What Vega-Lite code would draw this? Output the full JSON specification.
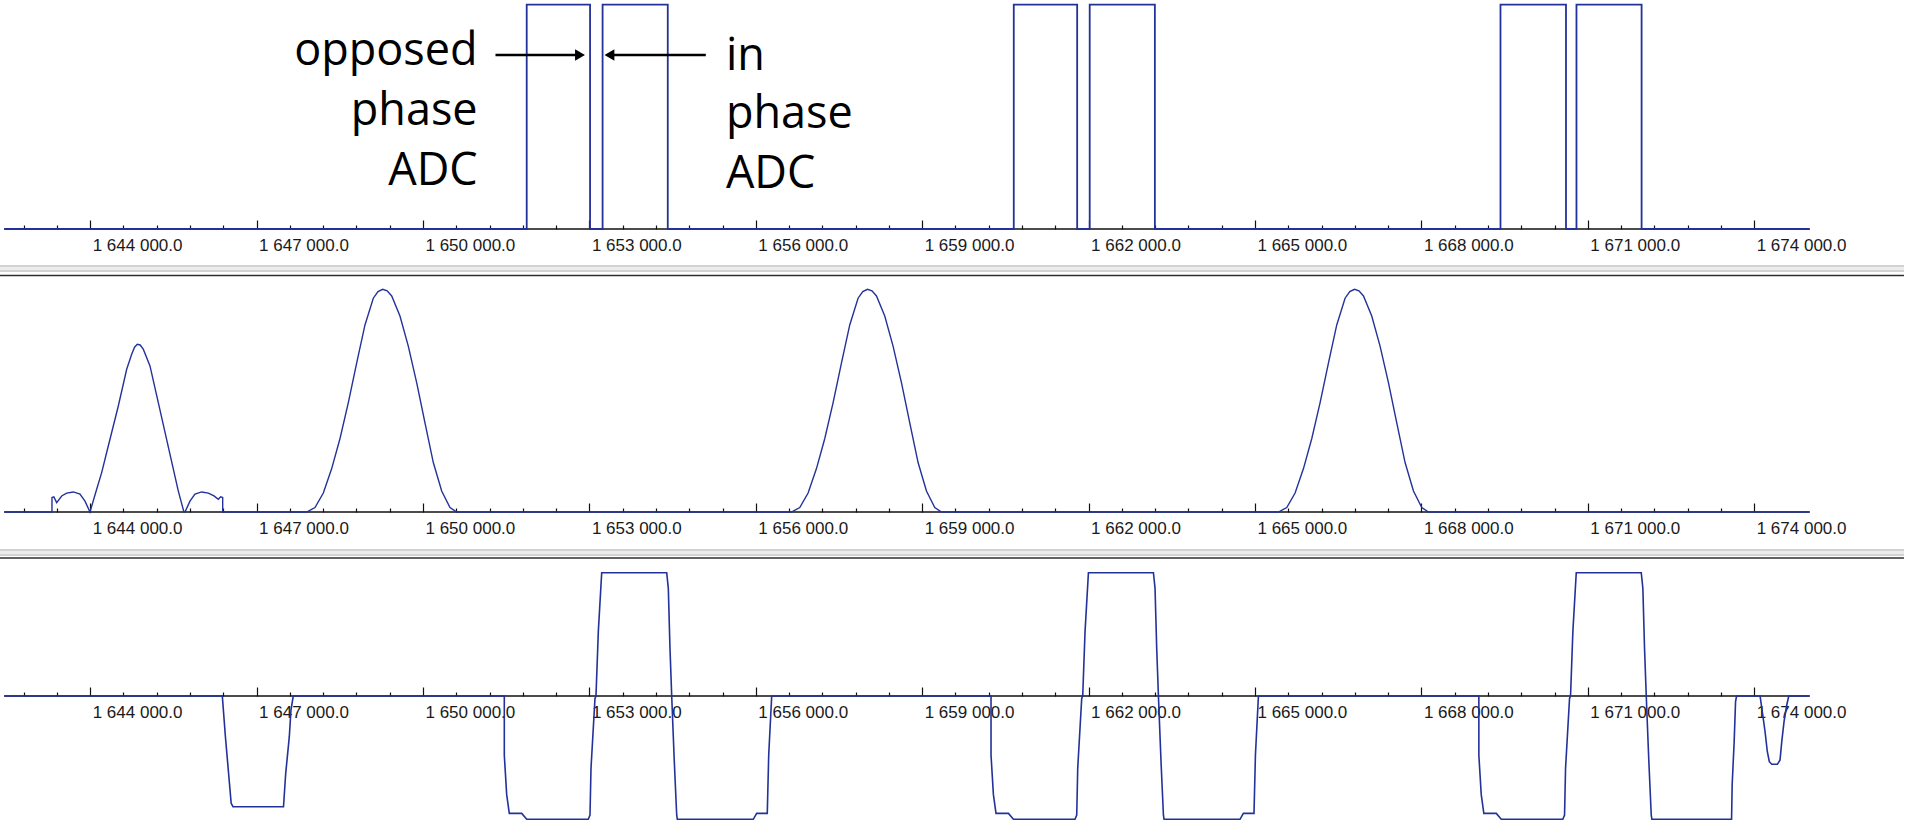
{
  "$schema": "https://vega.github.io/schema/vega-lite/v6.json",
  "padding": 0,
  "background": "white",
  "spacing": 32,
  "bounds": "flush",
  "resolve": {"scale": {"x": "independent", "y": "independent"}},
  "config": {
    "view": {"stroke": null},
    "axisX": {
      "domain": false, "grid": false, "ticks": true,
      "tickColor": "#111111", "tickWidth": 1.2,
      "labelFont": "Liberation Sans", "labelFontSize": 17, "labelColor": "#1a1a1a",
      "labelAlign": "left", "labelBaseline": "top", "labelPadding": 17.5, "labelOffset": 2,
      "labelFlush": false, "labelOverlap": false
    }
  },
  "datasets": {
    "one": [{}],
    "p1": [
      {"t":1642450,"a":0},{"t":1651870,"a":0},{"t":1651870,"a":0.98},{"t":1653012,"a":0.98},{"t":1653012,"a":0},
      {"t":1653238,"a":0},{"t":1653238,"a":0.98},{"t":1654413,"a":0.98},{"t":1654413,"a":0},
      {"t":1660651,"a":0},{"t":1660651,"a":0.98},{"t":1661794,"a":0.98},{"t":1661794,"a":0},
      {"t":1662020,"a":0},{"t":1662020,"a":0.98},{"t":1663195,"a":0.98},{"t":1663195,"a":0},
      {"t":1669426,"a":0},{"t":1669426,"a":0.98},{"t":1670607,"a":0.98},{"t":1670607,"a":0},
      {"t":1670796,"a":0},{"t":1670796,"a":0.98},{"t":1671970,"a":0.98},{"t":1671970,"a":0},
      {"t":1675000,"a":0}
    ],
    "p2": [
      {"t":1642450,"a":0},
      {"t":1643311,"a":0},{"t":1643311,"a":0.065},{"t":1643345,"a":0.068},{"t":1643396,"a":0.042},{"t":1643486,"a":0.072},
      {"t":1643576,"a":0.085},{"t":1643695,"a":0.09},{"t":1643816,"a":0.08},{"t":1643906,"a":0.049},{"t":1643996,"a":0},
      {"t":1644117,"a":0.102},{"t":1644207,"a":0.177},{"t":1644297,"a":0.267},{"t":1644507,"a":0.476},{"t":1644658,"a":0.641},
      {"t":1644748,"a":0.708},{"t":1644800,"a":0.74},{"t":1644849,"a":0.753},{"t":1644900,"a":0.75},{"t":1644957,"a":0.731},
      {"t":1645078,"a":0.656},{"t":1645228,"a":0.491},{"t":1645439,"a":0.259},{"t":1645589,"a":0.094},{"t":1645690,"a":0},
      {"t":1645709,"a":0},{"t":1645799,"a":0.049},{"t":1645889,"a":0.08},{"t":1646010,"a":0.09},{"t":1646130,"a":0.085},
      {"t":1646232,"a":0.072},{"t":1646310,"a":0.057},{"t":1646353,"a":0.068},{"t":1646389,"a":0.065},{"t":1646389,"a":0},
      {"t":1647903,"a":0},{"t":1648053,"a":0.02},{"t":1648203,"a":0.085},{"t":1648354,"a":0.195},{"t":1648504,"a":0.33},
      {"t":1648653,"a":0.49},{"t":1648805,"a":0.67},{"t":1648954,"a":0.84},{"t":1649104,"a":0.96},{"t":1649189,"a":0.99},
      {"t":1649274,"a":1.0},{"t":1649354,"a":0.993},{"t":1649436,"a":0.97},{"t":1649585,"a":0.88},{"t":1649735,"a":0.745},
      {"t":1649887,"a":0.58},{"t":1650036,"a":0.4},{"t":1650186,"a":0.222},{"t":1650337,"a":0.094},{"t":1650487,"a":0.02},
      {"t":1650608,"a":0},
      {"t":1656643,"a":0},{"t":1656793,"a":0.02},{"t":1656943,"a":0.085},{"t":1657094,"a":0.195},{"t":1657244,"a":0.33},
      {"t":1657393,"a":0.49},{"t":1657545,"a":0.67},{"t":1657694,"a":0.84},{"t":1657844,"a":0.96},{"t":1657929,"a":0.99},
      {"t":1658014,"a":1.0},{"t":1658094,"a":0.993},{"t":1658176,"a":0.97},{"t":1658325,"a":0.88},{"t":1658475,"a":0.745},
      {"t":1658627,"a":0.58},{"t":1658776,"a":0.4},{"t":1658926,"a":0.222},{"t":1659077,"a":0.094},{"t":1659227,"a":0.02},
      {"t":1659348,"a":0},
      {"t":1665423,"a":0},{"t":1665573,"a":0.02},{"t":1665723,"a":0.085},{"t":1665874,"a":0.195},{"t":1666024,"a":0.33},
      {"t":1666173,"a":0.49},{"t":1666325,"a":0.67},{"t":1666474,"a":0.84},{"t":1666624,"a":0.96},{"t":1666709,"a":0.99},
      {"t":1666794,"a":1.0},{"t":1666874,"a":0.993},{"t":1666956,"a":0.97},{"t":1667105,"a":0.88},{"t":1667255,"a":0.745},
      {"t":1667407,"a":0.58},{"t":1667556,"a":0.4},{"t":1667706,"a":0.222},{"t":1667857,"a":0.094},{"t":1668007,"a":0.02},
      {"t":1668128,"a":0},
      {"t":1675000,"a":0}
    ],
    "p3": [
      {"t":1642450,"a":0},
      {"t":1646382,"a":0},{"t":1646438,"a":-0.33},{"t":1646495,"a":-0.627},{"t":1646542,"a":-0.87},{"t":1646575,"a":-0.898},
      {"t":1647485,"a":-0.898},{"t":1647525,"a":-0.627},{"t":1647590,"a":-0.33},{"t":1647620,"a":-0.114},{"t":1647661,"a":0},
      {"t":1651466,"a":0},{"t":1651466,"a":-0.48},{"t":1651509,"a":-0.8},{"t":1651556,"a":-0.952},{"t":1651780,"a":-0.952},
      {"t":1651870,"a":-1.0},{"t":1652980,"a":-1.0},{"t":1653011,"a":-0.965},{"t":1653029,"a":-0.587},{"t":1653101,"a":-0.019},
      {"t":1653119,"a":0},{"t":1653161,"a":0.522},{"t":1653222,"a":1.0},{"t":1654394,"a":1.0},{"t":1654423,"a":0.873},
      {"t":1654453,"a":0.387},{"t":1654484,"a":0},{"t":1654531,"a":-0.533},{"t":1654574,"a":-0.965},{"t":1654585,"a":-1.0},
      {"t":1655955,"a":-1.0},{"t":1656016,"a":-0.952},{"t":1656207,"a":-0.952},{"t":1656233,"a":-0.479},{"t":1656287,"a":0},
      {"t":1660241,"a":0},{"t":1660241,"a":-0.48},{"t":1660284,"a":-0.8},{"t":1660331,"a":-0.952},{"t":1660555,"a":-0.952},
      {"t":1660645,"a":-1.0},{"t":1661755,"a":-1.0},{"t":1661786,"a":-0.965},{"t":1661804,"a":-0.587},{"t":1661876,"a":-0.019},
      {"t":1661894,"a":0},{"t":1661936,"a":0.522},{"t":1661997,"a":1.0},{"t":1663169,"a":1.0},{"t":1663198,"a":0.873},
      {"t":1663228,"a":0.387},{"t":1663259,"a":0},{"t":1663306,"a":-0.533},{"t":1663349,"a":-0.965},{"t":1663360,"a":-1.0},
      {"t":1664730,"a":-1.0},{"t":1664791,"a":-0.952},{"t":1664982,"a":-0.952},{"t":1665008,"a":-0.479},{"t":1665062,"a":0},
      {"t":1669036,"a":0},{"t":1669036,"a":-0.48},{"t":1669079,"a":-0.8},{"t":1669126,"a":-0.952},{"t":1669350,"a":-0.952},
      {"t":1669440,"a":-1.0},{"t":1670550,"a":-1.0},{"t":1670581,"a":-0.965},{"t":1670599,"a":-0.587},{"t":1670671,"a":-0.019},
      {"t":1670689,"a":0},{"t":1670731,"a":0.522},{"t":1670792,"a":1.0},{"t":1671964,"a":1.0},{"t":1671993,"a":0.873},
      {"t":1672023,"a":0.387},{"t":1672054,"a":0},{"t":1672101,"a":-0.533},{"t":1672144,"a":-0.965},{"t":1672155,"a":-1.0},
      {"t":1673592,"a":-1.0},{"t":1673603,"a":-0.72},{"t":1673639,"a":-0.37},{"t":1673664,"a":-0.046},{"t":1673682,"a":0},
      {"t":1674106,"a":0},{"t":1674154,"a":-0.154},{"t":1674196,"a":-0.29},{"t":1674237,"a":-0.452},{"t":1674273,"a":-0.533},
      {"t":1674317,"a":-0.554},{"t":1674418,"a":-0.554},{"t":1674466,"a":-0.519},{"t":1674497,"a":-0.37},{"t":1674538,"a":-0.208},
      {"t":1674587,"a":-0.073},{"t":1674623,"a":0},{"t":1675000,"a":0}
    ],
    "notesLeft": [
      {"t":1650985,"a":0.716,"label":"opposed"},
      {"t":1650985,"a":0.4541,"label":"phase"},
      {"t":1650985,"a":0.1921,"label":"ADC"}
    ],
    "notesRight": [
      {"t":1655461,"a":0.6965,"label":"in"},
      {"t":1655461,"a":0.4389,"label":"phase"},
      {"t":1655461,"a":0.1769,"label":"ADC"}
    ],
    "arrows": [
      {"t":1651307,"t2":1652850,"a":0.7598},
      {"t":1653340,"t2":1655099,"a":0.7598}
    ],
    "heads": [
      {"t":1652831,"a":0.7598,"dir":"right"},
      {"t":1653362,"a":0.7598,"dir":"left"}
    ]
  },
  "vconcat": [
    {
      "width": 1908, "height": 229,
      "layer": [
        {
          "data": {"name": "one"},
          "mark": {"type": "rule", "color": "#111111", "strokeWidth": 1.3},
          "encoding": {
            "y": {"datum": 0, "type": "quantitative", "scale": {"domain": [0, 1], "nice": false, "zero": false}, "axis": null},
            "x": {"datum": 1642450, "type": "quantitative", "scale": {"domain": [1642374, 1676773], "nice": false, "zero": false}},
            "x2": {"datum": 1675000}
          }
        },
        {
          "data": {"name": "p1"},
          "mark": {"type": "line", "color": "#23329a", "strokeWidth": 1.8},
          "encoding": {
            "x": {"field": "t", "type": "quantitative",
              "axis": {"title": null, "labelOverlap": false, "labelFlush": false, "tickCount": 200,
                "values": [1642800,1643400,1644000,1644600,1645200,1645800,1646400,1647000,1647600,1648200,1648800,1649400,1650000,1650600,1651200,1651800,1652400,1653000,1653600,1654200,1654800,1655400,1656000,1656600,1657200,1657800,1658400,1659000,1659600,1660200,1660800,1661400,1662000,1662600,1663200,1663800,1664400,1665000,1665600,1666200,1666800,1667400,1668000,1668600,1669200,1669800,1670400,1671000,1671600,1672200,1672800,1673400,1674000],
                "labelExpr": "datum.value % 3000 === 0 ? replace(replace(format(datum.value, ',.1f'), ',', ' '), ',', ' ') : ''",
                "tickSize": {"condition": {"test": "datum.value % 3000 === 0", "value": -9}, "value": -4}
              }},
            "y": {"field": "a", "type": "quantitative"},
            "order": {"value": null}
          }
        },
        {
          "data": {"name": "arrows"},
          "mark": {"type": "rule", "color": "#000000", "strokeWidth": 2.5},
          "encoding": {
            "x": {"field": "t", "type": "quantitative"},
            "x2": {"field": "t2"},
            "y": {"field": "a", "type": "quantitative"}
          }
        },
        {
          "data": {"name": "heads"},
          "mark": {"type": "point", "filled": true, "color": "#000000", "opacity": 1, "size": 130},
          "encoding": {
            "x": {"field": "t", "type": "quantitative"},
            "y": {"field": "a", "type": "quantitative"},
            "shape": {"field": "dir", "type": "nominal", "scale": {"domain": ["right", "left"], "range": ["triangle-right", "triangle-left"]}, "legend": null}
          }
        },
        {
          "data": {"name": "notesLeft"},
          "mark": {"type": "text", "align": "right", "baseline": "alphabetic", "font": "Open Sans", "fontSize": 45, "color": "#000000"},
          "encoding": {
            "x": {"field": "t", "type": "quantitative"},
            "y": {"field": "a", "type": "quantitative"},
            "text": {"field": "label"}
          }
        },
        {
          "data": {"name": "notesRight"},
          "mark": {"type": "text", "align": "left", "baseline": "alphabetic", "font": "Open Sans", "fontSize": 45, "color": "#000000"},
          "encoding": {
            "x": {"field": "t", "type": "quantitative"},
            "y": {"field": "a", "type": "quantitative"},
            "text": {"field": "label"}
          }
        }
      ]
    },
    {
      "width": 1908, "height": 251,
      "layer": [
        {
          "data": {"name": "one"},
          "mark": {"type": "rect", "color": "#d2d2d2"},
          "encoding": {
            "y": {"datum": 1.1091, "type": "quantitative", "scale": {"domain": [0, 1.127], "nice": false, "zero": false}, "axis": null},
            "y2": {"datum": 1.0777},
            "x": {"datum": 1642374, "type": "quantitative", "scale": {"domain": [1642374, 1676773], "nice": false, "zero": false}},
            "x2": {"datum": 1676700}
          }
        },
        {
          "data": {"name": "one"},
          "mark": {"type": "rect", "color": "#ececec"},
          "encoding": {
            "y": {"datum": 1.1001, "type": "quantitative"}, "y2": {"datum": 1.0867},
            "x": {"datum": 1642374, "type": "quantitative"}, "x2": {"datum": 1676700}
          }
        },
        {
          "data": {"name": "one"},
          "mark": {"type": "rect", "color": "#2e2e2e"},
          "encoding": {
            "y": {"datum": 1.0656, "type": "quantitative"}, "y2": {"datum": 1.0584},
            "x": {"datum": 1642374, "type": "quantitative"}, "x2": {"datum": 1676700}
          }
        },
        {
          "data": {"name": "one"},
          "mark": {"type": "rule", "color": "#111111", "strokeWidth": 1.3},
          "encoding": {
            "y": {"datum": 0, "type": "quantitative"},
            "x": {"datum": 1642450, "type": "quantitative"},
            "x2": {"datum": 1675000}
          }
        },
        {
          "data": {"name": "p2"},
          "mark": {"type": "line", "color": "#23329a", "strokeWidth": 1.4},
          "encoding": {
            "x": {"field": "t", "type": "quantitative",
              "axis": {"title": null, "labelOverlap": false, "labelFlush": false, "tickCount": 200,
                "values": [1642800,1643400,1644000,1644600,1645200,1645800,1646400,1647000,1647600,1648200,1648800,1649400,1650000,1650600,1651200,1651800,1652400,1653000,1653600,1654200,1654800,1655400,1656000,1656600,1657200,1657800,1658400,1659000,1659600,1660200,1660800,1661400,1662000,1662600,1663200,1663800,1664400,1665000,1665600,1666200,1666800,1667400,1668000,1668600,1669200,1669800,1670400,1671000,1671600,1672200,1672800,1673400,1674000],
                "labelExpr": "datum.value % 3000 === 0 ? replace(replace(format(datum.value, ',.1f'), ',', ' '), ',', ' ') : ''",
                "tickSize": {"condition": {"test": "datum.value % 3000 === 0", "value": -9}, "value": -4}
              }},
            "y": {"field": "a", "type": "quantitative"},
            "order": {"value": null}
          }
        }
      ]
    },
    {
      "width": 1908, "height": 283,
      "layer": [
        {
          "data": {"name": "one"},
          "mark": {"type": "rect", "color": "#d2d2d2"},
          "encoding": {
            "y": {"datum": 1.1922, "type": "quantitative", "scale": {"domain": [-1.0625, 1.2328], "nice": false, "zero": false}, "axis": null},
            "y2": {"datum": 1.1354},
            "x": {"datum": 1642374, "type": "quantitative", "scale": {"domain": [1642374, 1676773], "nice": false, "zero": false}},
            "x2": {"datum": 1676700}
          }
        },
        {
          "data": {"name": "one"},
          "mark": {"type": "rect", "color": "#ececec"},
          "encoding": {
            "y": {"datum": 1.176, "type": "quantitative"}, "y2": {"datum": 1.1517},
            "x": {"datum": 1642374, "type": "quantitative"}, "x2": {"datum": 1676700}
          }
        },
        {
          "data": {"name": "one"},
          "mark": {"type": "rect", "color": "#2e2e2e"},
          "encoding": {
            "y": {"datum": 1.1257, "type": "quantitative"}, "y2": {"datum": 1.1127},
            "x": {"datum": 1642374, "type": "quantitative"}, "x2": {"datum": 1676700}
          }
        },
        {
          "data": {"name": "one"},
          "mark": {"type": "rule", "color": "#111111", "strokeWidth": 1.3},
          "encoding": {
            "y": {"datum": 0, "type": "quantitative"},
            "x": {"datum": 1642450, "type": "quantitative"},
            "x2": {"datum": 1675000}
          }
        },
        {
          "data": {"name": "p3"},
          "mark": {"type": "line", "color": "#23329a", "strokeWidth": 1.6},
          "encoding": {
            "x": {"field": "t", "type": "quantitative",
              "axis": {"title": null, "offset": -131, "labelOverlap": false, "labelFlush": false, "tickCount": 200,
                "values": [1642800,1643400,1644000,1644600,1645200,1645800,1646400,1647000,1647600,1648200,1648800,1649400,1650000,1650600,1651200,1651800,1652400,1653000,1653600,1654200,1654800,1655400,1656000,1656600,1657200,1657800,1658400,1659000,1659600,1660200,1660800,1661400,1662000,1662600,1663200,1663800,1664400,1665000,1665600,1666200,1666800,1667400,1668000,1668600,1669200,1669800,1670400,1671000,1671600,1672200,1672800,1673400,1674000],
                "labelExpr": "datum.value % 3000 === 0 ? replace(replace(format(datum.value, ',.1f'), ',', ' '), ',', ' ') : ''",
                "tickSize": {"condition": {"test": "datum.value % 3000 === 0", "value": -9}, "value": -4}
              }},
            "y": {"field": "a", "type": "quantitative"},
            "order": {"value": null}
          }
        }
      ]
    }
  ]
}
